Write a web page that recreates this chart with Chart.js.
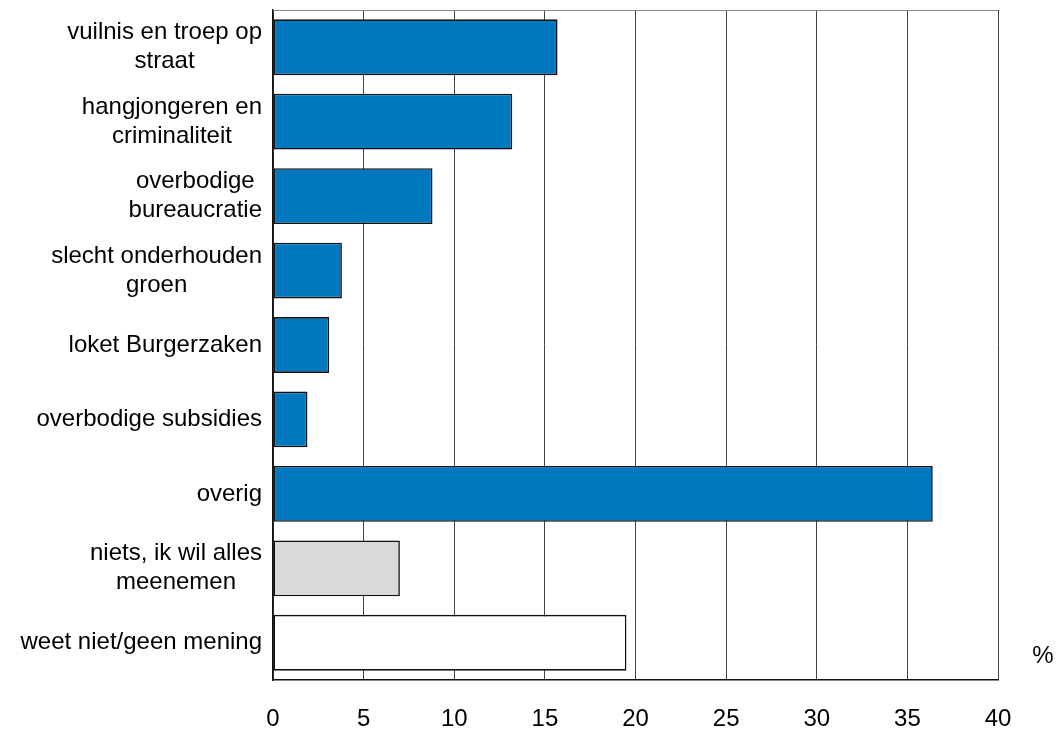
<!DOCTYPE html>
<html>
<head>
<meta charset="utf-8">
<title>Bezuinigingen</title>
<script src="https://cdn.jsdelivr.net/npm/chart.js"></script>
<style>
  html, body { margin: 0; padding: 0; background: #fff; }
  #wrap { width: 1057px; height: 729px; }
</style>
</head>
<body>
<div id="wrap"><canvas id="barChart"></canvas></div>
<script>
  // categories (multi-line labels), values in %, bar colours
  const categories = [
    ['vuilnis en troep op', 'straat'],
    ['hangjongeren en', 'criminaliteit'],
    ['overbodige', 'bureaucratie'],
    ['slecht onderhouden', 'groen'],
    ['loket Burgerzaken'],
    ['overbodige subsidies'],
    ['overig'],
    ['niets, ik wil alles', 'meenemen'],
    ['weet niet/geen mening']
  ];
  const values = [15.7, 13.2, 8.8, 3.8, 3.1, 1.9, 36.4, 7.0, 19.5];
  const barColors = ['#0079c1', '#0079c1', '#0079c1', '#0079c1', '#0079c1', '#0079c1', '#0079c1', '#d9d9d9', '#ffffff'];
  const xTicks = [0, 5, 10, 15, 20, 25, 30, 35, 40];

  const FONT = '"Liberation Sans", Arial, sans-serif';

  // frame, y labels (centered lines, right-aligned block) and the % sign
  const labelPlugin = {
    id: 'labelPlugin',
    afterDraw(chart) {
      const ctx = chart.ctx;
      const area = chart.chartArea;
      const yScale = chart.scales.y;
      ctx.save();

      ctx.strokeStyle = '#888';
      ctx.lineWidth = 1;
      ctx.beginPath();
      ctx.moveTo(area.left, area.top + 0.5);
      ctx.lineTo(area.right, area.top + 0.5);
      ctx.stroke();

      ctx.font = '24px ' + FONT;
      ctx.fillStyle = '#000';
      ctx.textAlign = 'center';
      ctx.textBaseline = 'middle';
      const lh = 29;
      categories.forEach((lines, i) => {
        const y = yScale.getPixelForValue(i);
        const w = Math.max(...lines.map(l => ctx.measureText(l).width));
        const cx = area.left - 11 - w / 2;
        lines.forEach((l, j) => {
          ctx.fillText(l, cx, y + (j - (lines.length - 1) / 2) * lh);
        });
      });

      ctx.fillText('%', area.right + 45, area.bottom - 24);
      ctx.restore();
    }
  };

  const ctx = document.getElementById('barChart').getContext('2d');
  new Chart(ctx, {
    type: 'bar',
    data: {
      labels: categories,
      datasets: [{
        data: values,
        backgroundColor: barColors,
        borderColor: '#111',
        borderWidth: 1.6,
        borderSkipped: false,
        categoryPercentage: 0.75,
        barPercentage: 1
      }]
    },
    options: {
      indexAxis: 'y',
      responsive: true,
      maintainAspectRatio: false,
      animation: false,
      layout: { padding: { left: 273, top: 10, right: 59, bottom: 0 } },
      plugins: {
        legend: { display: false },
        tooltip: { enabled: false }
      },
      scales: {
        x: {
          min: 0,
          max: 40,
          afterBuildTicks: axis => { axis.ticks = xTicks.map(v => ({ value: v })); },
          afterFit: axis => { axis.height = 49; },
          grid: { color: '#444', lineWidth: 1, drawTicks: false },
          border: { display: true, color: '#111', width: 1.5 },
          ticks: {
            padding: 25,
            color: '#000',
            font: { family: FONT, size: 24 }
          }
        },
        y: {
          grid: { display: false, drawTicks: false },
          border: { display: true, color: '#111', width: 1.5 },
          ticks: { display: false }
        }
      }
    },
    plugins: [labelPlugin]
  });
</script>
</body>
</html>
